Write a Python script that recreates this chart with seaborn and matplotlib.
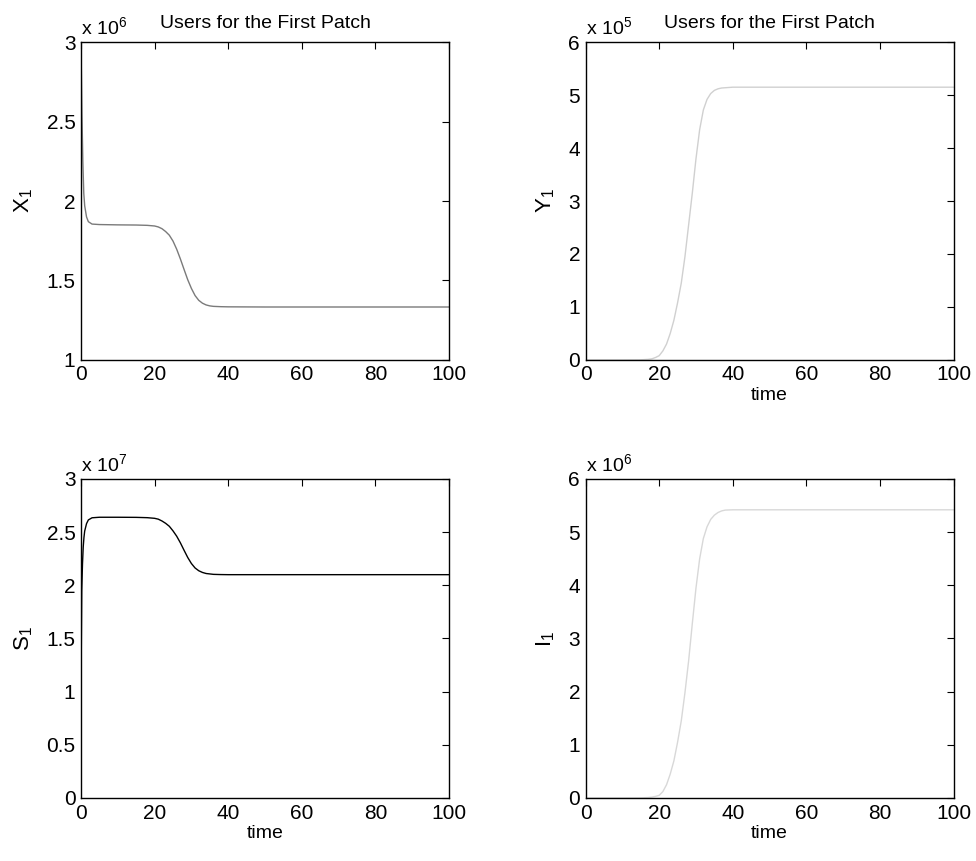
import numpy as np
import pandas as pd
import matplotlib
matplotlib.use("Agg")
import matplotlib.pyplot as plt
import seaborn as sns

# ---------------- data ----------------
# X1 (x 10^6)
t_x1 = [0, 0.25, 0.5, 0.75, 1, 1.5, 2, 3, 5, 10, 15, 18, 20, 21, 22, 23, 24, 25, 26, 27,
        28, 29, 30, 31, 32, 33, 34, 35, 36, 38, 40, 50, 60, 70, 80, 90, 100]
x1 = [2.98, 2.55, 2.25, 2.05, 1.97, 1.90, 1.87, 1.855, 1.852, 1.850, 1.849, 1.847, 1.843,
      1.837, 1.826, 1.808, 1.785, 1.748, 1.697, 1.636, 1.570, 1.505, 1.450, 1.405, 1.375,
      1.357, 1.346, 1.340, 1.337, 1.335, 1.334, 1.333, 1.333, 1.333, 1.333, 1.333, 1.333]

# Y1 (x 10^5)
t_y1 = [0, 5, 10, 15, 17, 18, 19, 20, 21, 22, 23, 24, 25, 26, 27, 28, 29, 30, 31, 32, 33,
        34, 35, 36, 37, 38, 40, 45, 50, 60, 70, 80, 90, 100]
y1 = [0.0, 0.0, 0.0, 0.002, 0.01, 0.02, 0.045, 0.08, 0.17, 0.30, 0.50, 0.75, 1.08, 1.45,
      1.95, 2.55, 3.15, 3.80, 4.35, 4.72, 4.92, 5.03, 5.09, 5.12, 5.135, 5.14, 5.15, 5.15,
      5.15, 5.15, 5.15, 5.15, 5.15, 5.15]

# S1 (x 10^7)
t_s1 = [0, 0.1, 0.2, 0.4, 0.6, 0.8, 1.0, 1.5, 2, 3, 5, 10, 15, 18, 20, 21, 22, 23, 24, 25, 26,
        27, 28, 29, 30, 31, 32, 33, 34, 36, 38, 40, 50, 60, 70, 80, 90, 100]
s1 = [1.0, 1.5, 1.95, 2.2, 2.36, 2.45, 2.51, 2.58, 2.615, 2.635, 2.64, 2.64, 2.639, 2.636,
      2.630, 2.622, 2.605, 2.583, 2.555, 2.512, 2.462, 2.400, 2.330, 2.262, 2.205, 2.163,
      2.137, 2.121, 2.111, 2.103, 2.101, 2.10, 2.10, 2.10, 2.10, 2.10, 2.10, 2.10]

# I1 (x 10^6)
t_i1 = [0, 5, 10, 15, 17, 18, 19, 20, 21, 22, 23, 24, 25, 26, 27, 28, 29, 30, 31, 32, 33,
        34, 35, 36, 37, 38, 40, 45, 50, 60, 70, 80, 90, 100]
i1 = [0.0, 0.0, 0.0, 0.002, 0.008, 0.015, 0.03, 0.05, 0.12, 0.25, 0.45, 0.70, 1.05, 1.45,
      1.98, 2.58, 3.28, 3.95, 4.50, 4.88, 5.10, 5.24, 5.32, 5.37, 5.40, 5.415, 5.42, 5.42,
      5.42, 5.42, 5.42, 5.42, 5.42, 5.42]

x_ticks = [0, 20, 40, 60, 80, 100]
x_ticklabels = ["0", "20", "40", "60", "80", "100"]

panels = [
    dict(t=t_x1, v=x1, color="#7a7a7a", ylabel="X$_1$", exp="6", ylim=(1, 3),
         yticks=[1, 1.5, 2, 2.5, 3], ylabels=["1", "1.5", "2", "2.5", "3"],
         title="Users for the First Patch", xlabel=None,
         pos=[0.083, 0.582, 0.377, 0.369], lw=1.0),
    dict(t=t_y1, v=y1, color="#d0d0d0", ylabel="Y$_1$", exp="5", ylim=(0, 6),
         yticks=[0, 1, 2, 3, 4, 5, 6], ylabels=["0", "1", "2", "3", "4", "5", "6"],
         title="Users for the First Patch", xlabel="time",
         pos=[0.600, 0.582, 0.377, 0.369], lw=1.0),
    dict(t=t_s1, v=s1, color="#000000", ylabel="S$_1$", exp="7", ylim=(0, 3),
         yticks=[0, 0.5, 1, 1.5, 2, 2.5, 3],
         ylabels=["0", "0.5", "1", "1.5", "2", "2.5", "3"],
         title=None, xlabel="time",
         pos=[0.083, 0.0732, 0.377, 0.3705], lw=1.0),
    dict(t=t_i1, v=i1, color="#d8d8d8", ylabel="I$_1$", exp="6", ylim=(0, 6),
         yticks=[0, 1, 2, 3, 4, 5, 6], ylabels=["0", "1", "2", "3", "4", "5", "6"],
         title=None, xlabel="time",
         pos=[0.600, 0.0732, 0.377, 0.3705], lw=1.0),
]

sns.set_style("white")
plt.rcParams["font.family"] = ["Liberation Sans", "DejaVu Sans"]
plt.rcParams["mathtext.fontset"] = "custom"
plt.rcParams["mathtext.rm"] = "Liberation Sans"
plt.rcParams["mathtext.it"] = "Liberation Sans"
plt.rcParams["text.color"] = "black"
plt.rcParams["axes.labelcolor"] = "black"

fig = plt.figure(figsize=(9.76, 8.61), dpi=100)

for p in panels:
    ax = fig.add_axes(p["pos"])
    df = pd.DataFrame({"time": p["t"], "value": p["v"]})
    sns.lineplot(data=df, x="time", y="value", ax=ax, color=p["color"],
                 linewidth=p["lw"], estimator=None, sort=True)
    ax.set_xlim(0, 100)
    ax.set_ylim(*p["ylim"])
    ax.set_xticks(x_ticks)
    ax.set_xticklabels(x_ticklabels)
    ax.set_yticks(p["yticks"])
    ax.set_yticklabels(p["ylabels"])
    ax.tick_params(direction="in", top=True, right=True, length=5, width=0.8,
                   labelsize=15, colors="black", pad=4)
    for s in ax.spines.values():
        s.set_visible(True)
        s.set_color("black")
        s.set_linewidth(1.0)
    ax.set_ylabel(p["ylabel"], fontsize=16, labelpad=8, color="black")
    if p["xlabel"]:
        ax.set_xlabel(p["xlabel"], fontsize=14, labelpad=2, color="black")
    else:
        ax.set_xlabel("")
    if p["title"]:
        ax.set_title(p["title"], fontsize=14, pad=10, color="black")
    ax.text(0.0, 1.012, "x 10$^{" + p["exp"] + "}$", transform=ax.transAxes,
            fontsize=14, ha="left", va="bottom", color="black")
    ax.grid(False)

fig.savefig("out.png", dpi=100, facecolor="white")
